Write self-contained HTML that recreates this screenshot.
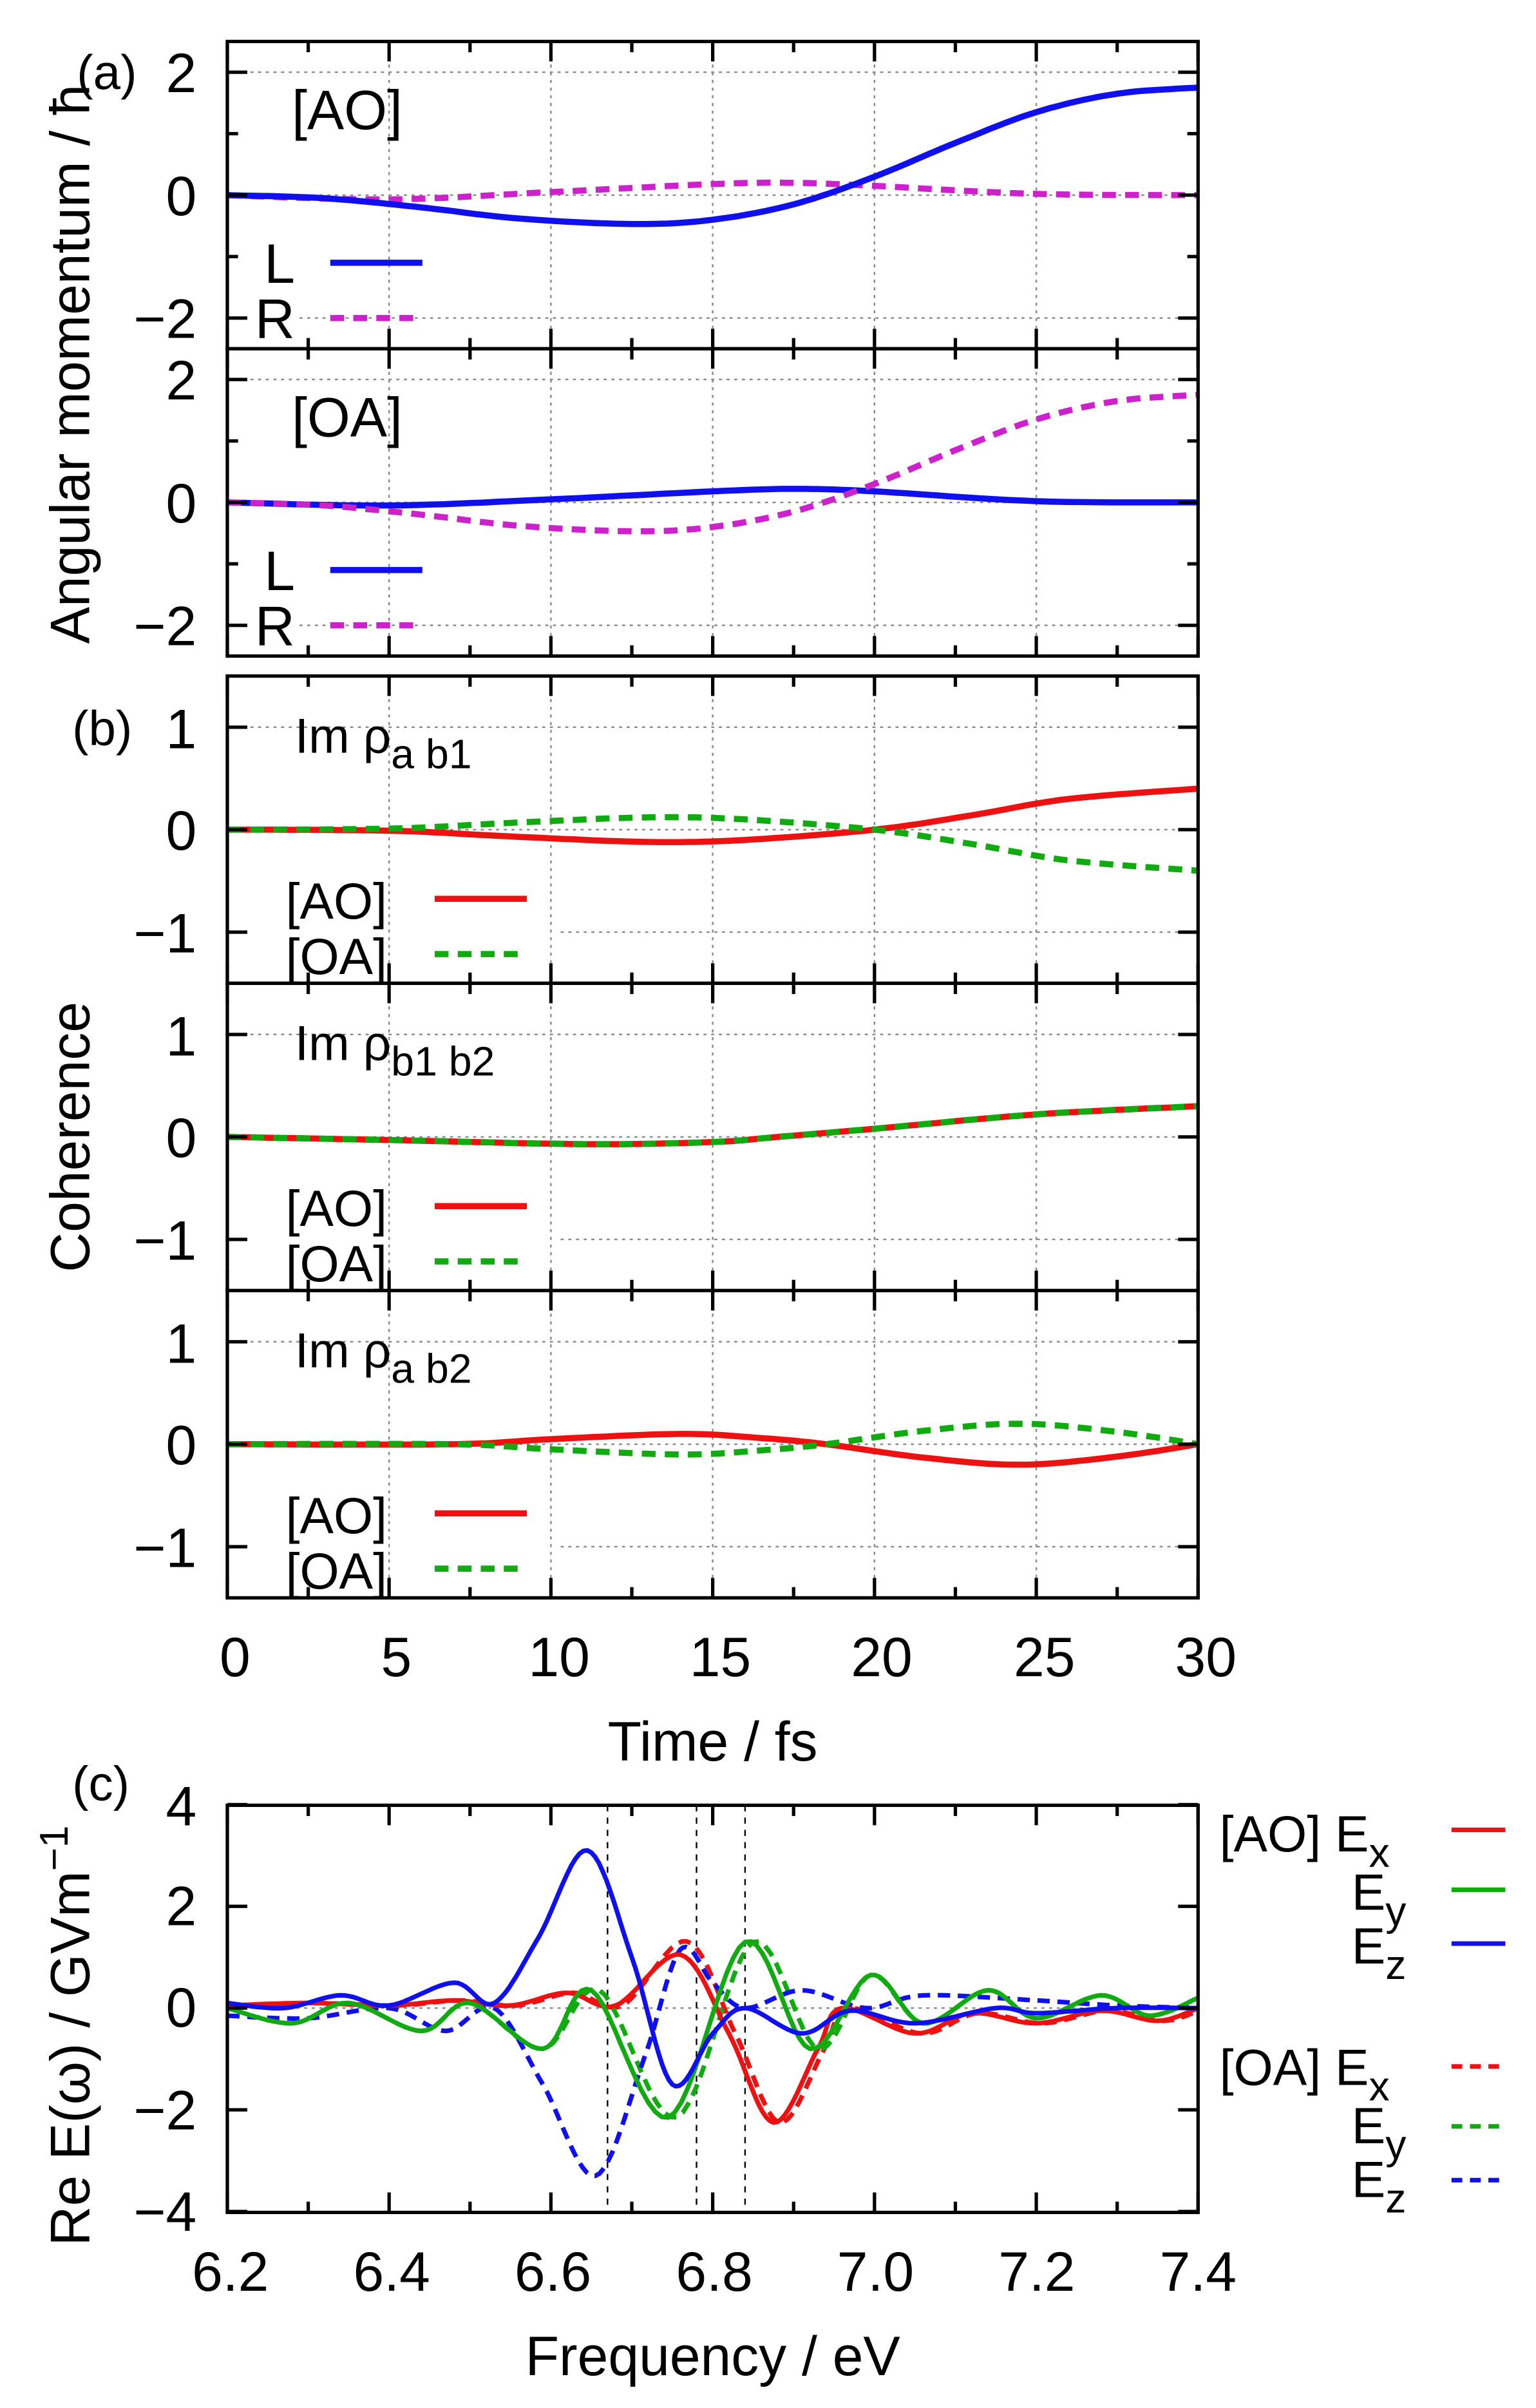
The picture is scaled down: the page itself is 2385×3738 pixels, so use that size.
<!DOCTYPE html>
<html><head><meta charset="utf-8"><style>
html,body{margin:0;padding:0;background:#fff}
svg{display:block}
text{font-family:"Liberation Sans",sans-serif;fill:#000}
</style></head><body>
<svg id="s" width="2385" height="3738" viewBox="0 0 1000 1567.3" xmlns="http://www.w3.org/2000/svg">
<defs><clipPath id="cc"><rect x="148" y="1175" width="632" height="265"/></clipPath></defs>
<g id="grid" stroke="#888" stroke-width="1" stroke-dasharray="2,3" fill="none"></g>
<g id="curves" fill="none" stroke-width="3"></g>
<g id="ccurves" fill="none" clip-path="url(#cc)"></g>
<g id="frame" stroke="#000" fill="none" stroke-width="2.2"></g>
<g font-size="36">
<text x="50" y="58" font-size="32">(a)</text>
<text x="128" y="60" text-anchor="end">2</text>
<text x="128" y="140" text-anchor="end">0</text>
<text x="128" y="220" text-anchor="end">−2</text>
<text x="128" y="260" text-anchor="end">2</text>
<text x="128" y="340" text-anchor="end">0</text>
<text x="128" y="420" text-anchor="end">−2</text>
<text x="190" y="84">[AO]</text>
<text x="190" y="284">[OA]</text>
<text x="172" y="184">L</text>
<text x="166" y="220">R</text>
<text x="172" y="384">L</text>
<text x="166" y="420">R</text>
<text transform="translate(58,237) rotate(-90)" text-anchor="middle">Angular momentum / ħ</text>
<text x="47" y="485" font-size="32">(b)</text>
<text x="128" y="487" text-anchor="end">1</text>
<text x="128" y="553" text-anchor="end">0</text>
<text x="128" y="620" text-anchor="end">−1</text>
<text x="128" y="687" text-anchor="end">1</text>
<text x="128" y="753" text-anchor="end">0</text>
<text x="128" y="820" text-anchor="end">−1</text>
<text x="128" y="887" text-anchor="end">1</text>
<text x="128" y="953" text-anchor="end">0</text>
<text x="128" y="1020" text-anchor="end">−1</text>
<text x="192" y="490" font-size="32">Im ρ<tspan font-size="27" dy="10">a b1</tspan></text>
<text x="192" y="690" font-size="32">Im ρ<tspan font-size="27" dy="10">b1 b2</tspan></text>
<text x="192" y="890" font-size="32">Im ρ<tspan font-size="27" dy="10">a b2</tspan></text>
<text x="186" y="598" font-size="33">[AO]</text>
<text x="186" y="634" font-size="33">[OA]</text>
<text x="186" y="798" font-size="33">[AO]</text>
<text x="186" y="834" font-size="33">[OA]</text>
<text x="186" y="998" font-size="33">[AO]</text>
<text x="186" y="1034" font-size="33">[OA]</text>
<text transform="translate(58,740) rotate(-90)" text-anchor="middle">Coherence</text>
<g text-anchor="middle">
<text x="153" y="1091">0</text><text x="258" y="1091">5</text><text x="364" y="1091">10</text>
<text x="469" y="1091">15</text><text x="574" y="1091">20</text><text x="680" y="1091">25</text><text x="785" y="1091">30</text>
<text x="464" y="1146">Time / fs</text>
</g>
<text x="47" y="1172" font-size="32">(c)</text>
<text x="128" y="1188" text-anchor="end">4</text>
<text x="128" y="1253" text-anchor="end">2</text>
<text x="128" y="1319" text-anchor="end">0</text>
<text x="128" y="1386" text-anchor="end">−2</text>
<text x="128" y="1452" text-anchor="end">−4</text>
<g text-anchor="middle">
<text x="150" y="1491">6.2</text><text x="255" y="1491">6.4</text><text x="360" y="1491">6.6</text>
<text x="465" y="1491">6.8</text><text x="570" y="1491">7.0</text><text x="675" y="1491">7.2</text><text x="780" y="1491">7.4</text>
<text x="464" y="1546">Frequency / eV</text>
</g>
<text transform="translate(58,1325) rotate(-90)" text-anchor="middle">Re E(ω) / GVm<tspan font-size="26" dy="-14">−1</tspan></text>
<text x="794" y="1205" font-size="33">[AO] E<tspan font-size="27" dy="10">x</tspan></text>
<text x="880" y="1243" font-size="33">E<tspan font-size="27" dy="10">y</tspan></text>
<text x="880" y="1278" font-size="33">E<tspan font-size="27" dy="10">z</tspan></text>
<text x="794" y="1357" font-size="33">[OA] E<tspan font-size="27" dy="10">x</tspan></text>
<text x="880" y="1395" font-size="33">E<tspan font-size="27" dy="10">y</tspan></text>
<text x="880" y="1430" font-size="33">E<tspan font-size="27" dy="10">z</tspan></text>
</g>
</svg>
<script>
const NS="http://www.w3.org/2000/svg";
const X0=148,X1=780;
function el(g,tag,attrs){const e=document.createElementNS(NS,tag);for(const k in attrs)e.setAttribute(k,attrs[k]);document.getElementById(g).appendChild(e);return e;}
function line(g,x1,y1,x2,y2,a){el(g,'line',Object.assign({x1,y1,x2,y2},a||{}));}
function cr(pts,n){
 const out=[];for(let i=0;i<pts.length-1;i++){const p0=pts[Math.max(0,i-1)],p1=pts[i],p2=pts[i+1],p3=pts[Math.min(pts.length-1,i+2)];
 for(let k=0;k<n;k++){const t=k/n,t2=t*t,t3=t2*t;
 const f=(a,b,c,d)=>0.5*(2*b+(-a+c)*t+(2*a-5*b+4*c-d)*t2+(-a+3*b-3*c+d)*t3);
 out.push([f(p0[0],p1[0],p2[0],p3[0]),f(p0[1],p1[1],p2[1],p3[1])]);}}
 out.push(pts[pts.length-1]);return out;}
function curve(pts,xmin,xmax,y0,sc,color,dash,g,w){
 const p=cr(pts,12).map(([x,y])=>[X0+(x-xmin)/(xmax-xmin)*(X1-X0),y0-y*sc]);
 el(g||'curves','path',{d:'M'+p.map(q=>q[0].toFixed(1)+','+q[1].toFixed(1)).join('L'),stroke:color,'stroke-dasharray':dash||'none','stroke-width':w||4});}
const panels=[[27,227],[227,427],[440,640],[640,840],[840,1040]];
function ticksX(top,bot,n,minor){for(let i=0;i<=n;i++){const x=X0+i*(X1-X0)/n;const L=(minor&&i%2)?7:13;line('frame',x,bot,x,bot-L);line('frame',x,top,x,top+L);}}
function ticksY(vals,y0,sc,minorVals){vals.forEach(v=>{const y=y0-v*sc;line('frame',X0,y,X0+13,y);line('frame',X1,y,X1-13,y);});(minorVals||[]).forEach(v=>{const y=y0-v*sc;line('frame',X0,y,X0+7,y);line('frame',X1,y,X1-7,y);});}
const gx=[5,10,15,20,25].map(t=>X0+t/30*(X1-X0));
[[27,227,127],[227,427,327]].forEach(([t,b,z])=>{gx.forEach(x=>line('grid',x,t,x,b));
 line('grid',X0,z-80,X1,z-80);line('grid',X0,z,X1,z);line('grid',195,z+80,X1,z+80);});
[[440,640,540],[640,840,740],[840,1040,940]].forEach(([t,b,z])=>{gx.forEach(x=>line('grid',x,t,x,b));
 line('grid',X0,z-66.7,X1,z-66.7);line('grid',X0,z,X1,z);line('grid',365,z+66.7,X1,z+66.7);});
line('grid',X0,1307,X1,1307);
[6.67,6.78,6.84].forEach(w=>{const x=X0+(w-6.2)/1.2*(X1-X0);line('grid',x,1175,x,1440,{stroke:'#000','stroke-dasharray':'4,4'});});
panels.forEach(([t,b])=>{el('frame','rect',{x:X0,y:t,width:X1-X0,height:b-t});ticksX(t,b,12,true);});
el('frame','rect',{x:X0,y:1175,width:X1-X0,height:265});ticksX(1175,1440,12,true);
[127,327].forEach(z=>ticksY([-2,0,2],z,40,[-1,1]));
[540,740,940].forEach(z=>ticksY([-1,0,1],z,66.7));
ticksY([-4,-2,0,2,4],1307,33.1);
const B='#1010ee',M='#cc22cc',R='#ee1111',G='#11aa11',D='9,6';
const LAO=[[0,0],[3,-0.05],[6,-0.2],[9,-0.38],[12.5,-0.47],[15,-0.4],[17.5,-0.15],[20,0.3],[22.5,0.85],[25,1.35],[27.5,1.65],[30,1.75]];
const RAO=[[0,0],[5,-0.07],[10,0.05],[15,0.18],[17.5,0.2],[20,0.15],[25,0.02],[30,0]];
curve(RAO,0,30,127,40,M,D);curve(LAO,0,30,127,40,B);
curve([[0,0],[5,-0.05],[10,0.05],[15,0.18],[17.5,0.22],[20,0.18],[25,0.02],[30,0]],0,30,327,40,B);
curve(LAO,0,30,327,40,M,D);
const lw={'stroke-width':4};
line('curves',215,171,275,171,Object.assign({stroke:B},lw));line('curves',215,207,275,207,Object.assign({stroke:M,'stroke-dasharray':D},lw));
line('curves',215,371,275,371,Object.assign({stroke:B},lw));line('curves',215,407,275,407,Object.assign({stroke:M,'stroke-dasharray':D},lw));
const neg=a=>a.map(([x,y])=>[x,-y]);
const b1=[[0,0],[5,-0.01],[9,-0.07],[13,-0.12],[16,-0.1],[20,0],[23,0.14],[26,0.3],[30,0.4]];
curve(b1,0,30,540,66.7,R);curve(neg(b1),0,30,540,66.7,G,D);
const b2=[[0,0],[5,-0.03],[11,-0.07],[15,-0.05],[17,0],[20,0.08],[25,0.22],[30,0.3]];
curve(b2,0,30,740,66.7,R);curve(b2,0,30,740,66.7,G,D);
const b3=[[0,0],[7,0.0],[10,0.05],[14,0.1],[16.5,0.06],[18.5,0],[21.5,-0.13],[24.5,-0.2],[27.5,-0.12],[30,0]];
curve(b3,0,30,940,66.7,R);curve(neg(b3),0,30,940,66.7,G,D);
[585,785,985].forEach(y=>{line('curves',283,y,343,y,Object.assign({stroke:R},lw));line('curves',283,y+36,343,y+36,Object.assign({stroke:G,'stroke-dasharray':D},lw));});
const cy=1307,cs=33.1,dc='8,5';
const EzS=[[6.2,0.1],[6.27,0],[6.34,0.25],[6.4,0.05],[6.48,0.5],[6.53,0.1],[6.585,1.4],[6.645,3.1],[6.7,1.0],[6.75,-1.5],[6.8,-0.5],[6.84,0],[6.91,-0.5],[6.97,-0.05],[7.05,-0.3],[7.15,0],[7.2,-0.1],[7.3,0],[7.4,0]];
const EzD=[[6.2,-0.15],[6.3,-0.2],[6.4,0],[6.47,-0.45],[6.53,0],[6.59,-1.5],[6.655,-3.3],[6.715,-1],[6.76,1.15],[6.8,0.5],[6.84,0],[6.91,0.35],[6.99,0],[7.06,0.25],[7.2,0.15],[7.3,0.05],[7.4,0]];
const ExS=[[6.2,0.05],[6.3,0.1],[6.4,0.05],[6.48,0.15],[6.55,0.05],[6.62,0.3],[6.68,0.05],[6.76,1.05],[6.82,-0.5],[6.875,-2.25],[6.93,-0.8],[6.96,0],[7.05,-0.5],[7.12,-0.1],[7.2,-0.3],[7.28,-0.05],[7.35,-0.25],[7.4,0]];
const ExD=ExS.map(([x,y])=>[x+0.008,y*(y>0.8?1.25:1)]);
const EyS=[[6.2,0],[6.28,-0.3],[6.35,0.1],[6.44,-0.45],[6.5,0.1],[6.59,-0.8],[6.65,0.35],[6.745,-2.15],[6.84,1.3],[6.92,-0.8],[6.995,0.65],[7.06,-0.3],[7.14,0.35],[7.2,-0.2],[7.28,0.25],[7.34,-0.15],[7.4,0.2]];
const EyD=EyS.map(([x,y])=>[x+(x>6.6&&x<6.95?0.01:0),y]);
curve(ExD,6.2,7.4,cy,cs,R,dc,'ccurves',3);curve(EyD,6.2,7.4,cy,cs,G,dc,'ccurves',3);curve(EzD,6.2,7.4,cy,cs,B,dc,'ccurves',3);
curve(ExS,6.2,7.4,cy,cs,R,null,'ccurves',3);curve(EyS,6.2,7.4,cy,cs,G,null,'ccurves',3);curve(EzS,6.2,7.4,cy,cs,B,null,'ccurves',3);
[[1191,R],[1230,G],[1265,B]].forEach(([y,c])=>line('curves',945,y,980,y,{stroke:c,'stroke-width':3}));
[[1345,R],[1384,G],[1419,B]].forEach(([y,c])=>line('curves',945,y,980,y,{stroke:c,'stroke-width':3,'stroke-dasharray':'7,5'}));
</script>
</body></html>
